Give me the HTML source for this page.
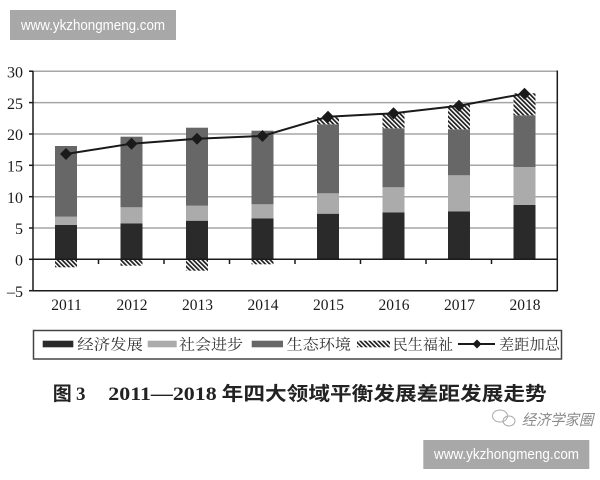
<!DOCTYPE html>
<html><head><meta charset="utf-8"><style>
html,body{margin:0;padding:0;background:#fff;}
svg{display:block;}
</style></head><body>
<svg width="600" height="480" viewBox="0 0 600 480" xmlns="http://www.w3.org/2000/svg">
<defs>
<pattern id="h" patternUnits="userSpaceOnUse" width="3.2" height="3.2" patternTransform="rotate(-45)">
<rect x="0" y="0" width="3.2" height="3.2" fill="#fff"/>
<rect x="0" y="0" width="1.7" height="3.2" fill="#1e1e1e"/>
</pattern>
</defs>
<rect width="600" height="480" fill="#fff"/>
<!-- watermark top -->
<rect x="10" y="10" width="166" height="30" fill="#a8a8a8"/>
<text x="21" y="30" font-family="Liberation Sans, sans-serif" font-size="15" fill="#fff" textLength="144" lengthAdjust="spacingAndGlyphs">www.ykzhongmeng.com</text>

<!-- gridlines -->
<g stroke="#a6a6a6" stroke-width="1.5">
<line x1="33" y1="71.2" x2="557" y2="71.2"/>
<line x1="33" y1="102.6" x2="557" y2="102.6"/>
<line x1="33" y1="134" x2="557" y2="134"/>
<line x1="33" y1="165.3" x2="557" y2="165.3"/>
<line x1="33" y1="196.7" x2="557" y2="196.7"/>
<line x1="33" y1="228" x2="557" y2="228"/>
</g>

<!-- bars -->
<g>
<!-- 2011 -->
<rect x="55" y="225" width="22" height="34.3" fill="#2a2a2a"/>
<rect x="55" y="216.7" width="22" height="8.3" fill="#ababab"/>
<rect x="55" y="146" width="22" height="70.7" fill="#676767"/>
<rect x="55" y="259.3" width="22" height="8" fill="url(#h)"/>
<!-- 2012 -->
<rect x="120.5" y="223.3" width="22" height="36" fill="#2a2a2a"/>
<rect x="120.5" y="207.3" width="22" height="16" fill="#ababab"/>
<rect x="120.5" y="136.7" width="22" height="70.6" fill="#676767"/>
<rect x="120.5" y="259.3" width="22" height="6.4" fill="url(#h)"/>
<!-- 2013 -->
<rect x="186" y="220.7" width="22" height="38.6" fill="#2a2a2a"/>
<rect x="186" y="205.7" width="22" height="15" fill="#ababab"/>
<rect x="186" y="127.7" width="22" height="78" fill="#676767"/>
<rect x="186" y="259.3" width="22" height="11.4" fill="url(#h)"/>
<!-- 2014 -->
<rect x="251.5" y="218.3" width="22" height="41" fill="#2a2a2a"/>
<rect x="251.5" y="204.3" width="22" height="14" fill="#ababab"/>
<rect x="251.5" y="130.7" width="22" height="73.6" fill="#676767"/>
<rect x="251.5" y="259.3" width="22" height="5" fill="url(#h)"/>
<!-- 2015 -->
<rect x="317" y="213.7" width="22" height="45.6" fill="#2a2a2a"/>
<rect x="317" y="193.3" width="22" height="20.4" fill="#ababab"/>
<rect x="317" y="124.3" width="22" height="69" fill="#676767"/>
<rect x="317" y="117.3" width="22" height="7" fill="url(#h)"/>
<!-- 2016 -->
<rect x="382.5" y="212.3" width="22" height="47" fill="#2a2a2a"/>
<rect x="382.5" y="187.3" width="22" height="25" fill="#ababab"/>
<rect x="382.5" y="128.3" width="22" height="59" fill="#676767"/>
<rect x="382.5" y="113.3" width="22" height="15" fill="url(#h)"/>
<!-- 2017 -->
<rect x="448" y="211.3" width="22" height="48" fill="#2a2a2a"/>
<rect x="448" y="175.3" width="22" height="36" fill="#ababab"/>
<rect x="448" y="129.3" width="22" height="46" fill="#676767"/>
<rect x="448" y="105" width="22" height="24.3" fill="url(#h)"/>
<!-- 2018 -->
<rect x="513.5" y="205" width="22" height="54.3" fill="#2a2a2a"/>
<rect x="513.5" y="167" width="22" height="38" fill="#ababab"/>
<rect x="513.5" y="115.3" width="22" height="51.7" fill="#676767"/>
<rect x="513.5" y="93.3" width="22" height="22" fill="url(#h)"/>
</g>

<!-- axes -->
<g stroke="#1a1a1a" stroke-width="1.5" fill="none">
<line x1="33" y1="71" x2="33" y2="291"/>
<line x1="33" y1="290.7" x2="557.5" y2="290.7"/>
<line x1="557.3" y1="70.5" x2="557.3" y2="291"/>
<line x1="33" y1="259.3" x2="557" y2="259.3"/>
<line x1="29" y1="71.2" x2="33" y2="71.2"/>
<line x1="29" y1="102.6" x2="33" y2="102.6"/>
<line x1="29" y1="134" x2="33" y2="134"/>
<line x1="29" y1="165.3" x2="33" y2="165.3"/>
<line x1="29" y1="196.7" x2="33" y2="196.7"/>
<line x1="29" y1="228" x2="33" y2="228"/>
<line x1="29" y1="259.3" x2="33" y2="259.3"/>
<line x1="29" y1="290.7" x2="33" y2="290.7"/>
<line x1="98.5" y1="259.3" x2="98.5" y2="264"/>
<line x1="164" y1="259.3" x2="164" y2="264"/>
<line x1="229.5" y1="259.3" x2="229.5" y2="264"/>
<line x1="295" y1="259.3" x2="295" y2="264"/>
<line x1="360.5" y1="259.3" x2="360.5" y2="264"/>
<line x1="426" y1="259.3" x2="426" y2="264"/>
<line x1="491.5" y1="259.3" x2="491.5" y2="264"/>
</g>

<!-- line series -->
<polyline points="66,154 131.5,143.7 197,138.7 262.5,136 328,116.7 393.5,113.3 459,105.7 524.5,93.7" fill="none" stroke="#1a1a1a" stroke-width="2"/>
<g fill="#1a1a1a">
<path d="M66 148 L72 154 L66 160 L60 154Z"/>
<path d="M131.5 137.7 L137.5 143.7 L131.5 149.7 L125.5 143.7Z"/>
<path d="M197 132.7 L203 138.7 L197 144.7 L191 138.7Z"/>
<path d="M262.5 130 L268.5 136 L262.5 142 L256.5 136Z"/>
<path d="M328 110.7 L334 116.7 L328 122.7 L322 116.7Z"/>
<path d="M393.5 107.3 L399.5 113.3 L393.5 119.3 L387.5 113.3Z"/>
<path d="M459 99.7 L465 105.7 L459 111.7 L453 105.7Z"/>
<path d="M524.5 87.7 L530.5 93.7 L524.5 99.7 L518.5 93.7Z"/>
</g>

<!-- y labels -->
<g font-family="Liberation Serif, serif" font-size="16" fill="#1a1a1a" text-anchor="end">
<text x="23" y="77.5">30</text>
<text x="23" y="108.8">25</text>
<text x="23" y="140.2">20</text>
<text x="23" y="171.5">15</text>
<text x="23" y="202.9">10</text>
<text x="23" y="234.2">5</text>
<text x="23" y="265.5">0</text>
<text x="23" y="296.9">–5</text>
</g>
<!-- x labels -->
<g font-family="Liberation Serif, serif" font-size="15.5" fill="#1a1a1a" text-anchor="middle">
<text x="66.5" y="310">2011</text>
<text x="132" y="310">2012</text>
<text x="197.5" y="310">2013</text>
<text x="263" y="310">2014</text>
<text x="328.5" y="310">2015</text>
<text x="394" y="310">2016</text>
<text x="459.5" y="310">2017</text>
<text x="525" y="310">2018</text>
</g>

<!-- legend -->
<rect x="33.5" y="330.5" width="528" height="28.5" fill="#fff" stroke="#444" stroke-width="1.5"/>
<rect x="42.7" y="340.7" width="30.6" height="6.6" fill="#2a2a2a"/>
<rect x="147.7" y="340.7" width="29" height="6.6" fill="#ababab"/>
<rect x="251.7" y="340.7" width="31.3" height="6.6" fill="#676767"/>
<rect x="357" y="340.7" width="33" height="6.6" fill="url(#h)"/>
<line x1="458" y1="344" x2="495" y2="344" stroke="#1a1a1a" stroke-width="2"/>
<path d="M477 339.5 L481.5 344 L477 348.5 L472.5 344Z" fill="#1a1a1a"/>
<g font-family="Liberation Serif, 'Noto Serif CJK SC', serif" font-size="15" fill="#333">
<text x="77.3" y="349.5" textLength="65.7" lengthAdjust="spacingAndGlyphs">经济发展</text>
<text x="179" y="349.5" textLength="64" lengthAdjust="spacingAndGlyphs">社会进步</text>
<text x="286.7" y="349.5" textLength="64.3" lengthAdjust="spacingAndGlyphs">生态环境</text>
<text x="392.7" y="349.5" textLength="60.3" lengthAdjust="spacingAndGlyphs">民生福祉</text>
<text x="499" y="349.5" textLength="61" lengthAdjust="spacingAndGlyphs">差距加总</text>
</g>

<!-- title -->
<text x="52.7" y="400" font-family="Liberation Sans, 'Noto Sans CJK SC', sans-serif" font-size="19" font-weight="bold" fill="#222">图</text>
<text x="76" y="400" font-family="Liberation Serif, serif" font-size="19" font-weight="bold" fill="#222">3</text>
<text x="108.3" y="400" font-family="Liberation Serif, serif" font-size="19" font-weight="bold" fill="#222" textLength="108.4" lengthAdjust="spacingAndGlyphs">2011—2018</text>
<text x="221.7" y="400" font-family="Liberation Sans, 'Noto Sans CJK SC', sans-serif" font-size="19" font-weight="bold" fill="#222" textLength="325" lengthAdjust="spacingAndGlyphs">年四大领域平衡发展差距发展走势</text>

<!-- wechat mark -->
<g fill="none" stroke="#aaa" stroke-width="1">
<ellipse cx="500" cy="416" rx="7.5" ry="6"/>
<ellipse cx="509" cy="421" rx="6" ry="5"/>
</g>
<text x="521.7" y="425" font-family="Liberation Sans, 'Noto Sans CJK SC', sans-serif" font-size="15" fill="#8a8a8a" font-style="italic" textLength="71.6" lengthAdjust="spacingAndGlyphs">经济学家圈</text>

<!-- watermark bottom -->
<rect x="423.3" y="440" width="166" height="29" fill="#a8a8a8"/>
<text x="434" y="459" font-family="Liberation Sans, sans-serif" font-size="15" fill="#fff" textLength="145" lengthAdjust="spacingAndGlyphs">www.ykzhongmeng.com</text>
</svg>
</body></html>
